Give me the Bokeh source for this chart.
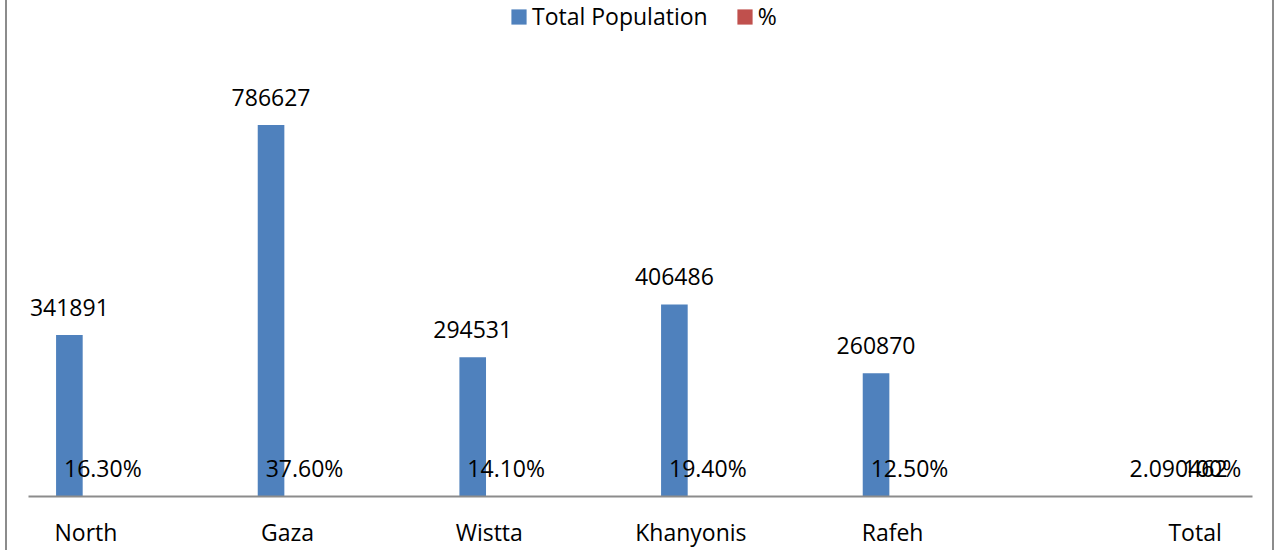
from bokeh.plotting import figure
from bokeh.models import (FactorRange, Range1d, ColumnDataSource, Legend,
                          LegendItem, LabelSet)
from bokeh.transform import dodge
from bokeh.core.properties import value
from bokeh.embed import file_html
from bokeh.resources import INLINE

# ---- data ----
categories = ["North", "Gaza", "Wistta", "Khanyonis", "Rafeh", "Total"]
groups = ["", "", "", "", "", " "]          # "Total" sits in its own group
total_population = [341891, 786627, 294531, 406486, 260870, 2.090462]
percent = [0.163, 0.376, 0.141, 0.194, 0.125, 1.0]
population_labels = ["341891", "786627", "294531", "406486", "260870", "2.090462"]
percent_labels = ["16.30%", "37.60%", "14.10%", "19.40%", "12.50%", "100%"]
series_names = ["Total Population", "%"]

# ---- style ----
BLUE = "#4F81BD"
RED = "#C0504D"
AXIS_GREY = "#8C8C8C"
FONT = "Open Sans"
FS = "23px"

factors = list(zip(groups, categories))
x_range = FactorRange(*factors, group_padding=0.5,
                      range_padding=-0.2153, range_padding_units="absolute")

p = figure(x_range=x_range, y_range=Range1d(0, 1050000),
           frame_width=1224, frame_height=496,
           output_backend="svg", toolbar_location=None,
           min_border_left=21, min_border_right=20, min_border_top=0,
           min_border_bottom=0)
p.styles = {"margin-left": "5px",
            "border-left": f"2px solid {AXIS_GREY}",
            "border-right": f"2px solid {AXIS_GREY}"}

p.outline_line_color = None
p.xgrid.visible = False
p.ygrid.visible = False
p.yaxis.visible = False
p.background_fill_color = "white"
p.border_fill_color = "white"

ax = p.xaxis[0]
ax.axis_line_color = AXIS_GREY
ax.axis_line_width = 2
ax.major_tick_line_color = None
ax.minor_tick_line_color = None
ax.major_tick_out = 0
ax.major_tick_in = 0
ax.major_label_text_font = FONT
ax.major_label_text_font_size = FS
ax.major_label_text_color = "black"
ax.major_label_standoff = 19
ax.group_text_color = None
ax.separator_line_color = None

src = ColumnDataSource(dict(x=factors, pop=total_population, pct=percent,
                            pop_label=population_labels, pct_label=percent_labels))

blue = p.vbar(x=dodge("x", -0.082, range=p.x_range), top="pop", width=0.132,
              source=src, fill_color=BLUE, line_color=None)
red = p.vbar(x=dodge("x", 0.05, range=p.x_range), top="pct", width=0.132,
             source=src, fill_color=RED, line_color=None)

pop_lbls = LabelSet(x=dodge("x", -0.082, range=p.x_range), y="pop", text="pop_label",
                    source=src, text_font=value(FONT), text_font_size=value(FS),
                    text_color="black", text_align="center",
                    text_baseline="alphabetic", y_offset=19)
pct_lbls = LabelSet(x=dodge("x", 0.084, range=p.x_range), y="pct", text="pct_label",
                    source=src, text_font=value(FONT), text_font_size=value(FS),
                    text_color="black", text_align="center",
                    text_baseline="alphabetic", y_offset=19)
p.add_layout(pop_lbls)
p.add_layout(pct_lbls)

legend = Legend(items=[LegendItem(label=series_names[0], renderers=[blue]),
                       LegendItem(label=series_names[1], renderers=[red])],
                orientation="horizontal", location=(481, 464),
                glyph_width=19, glyph_height=19, label_height=32,
                label_standoff=4, spacing=27,
                padding=0, margin=0, border_line_color=None,
                background_fill_alpha=0,
                label_text_font=FONT, label_text_font_size=FS,
                label_text_color="black")
p.add_layout(legend)

open("out.html", "w").write(file_html(p, INLINE))
